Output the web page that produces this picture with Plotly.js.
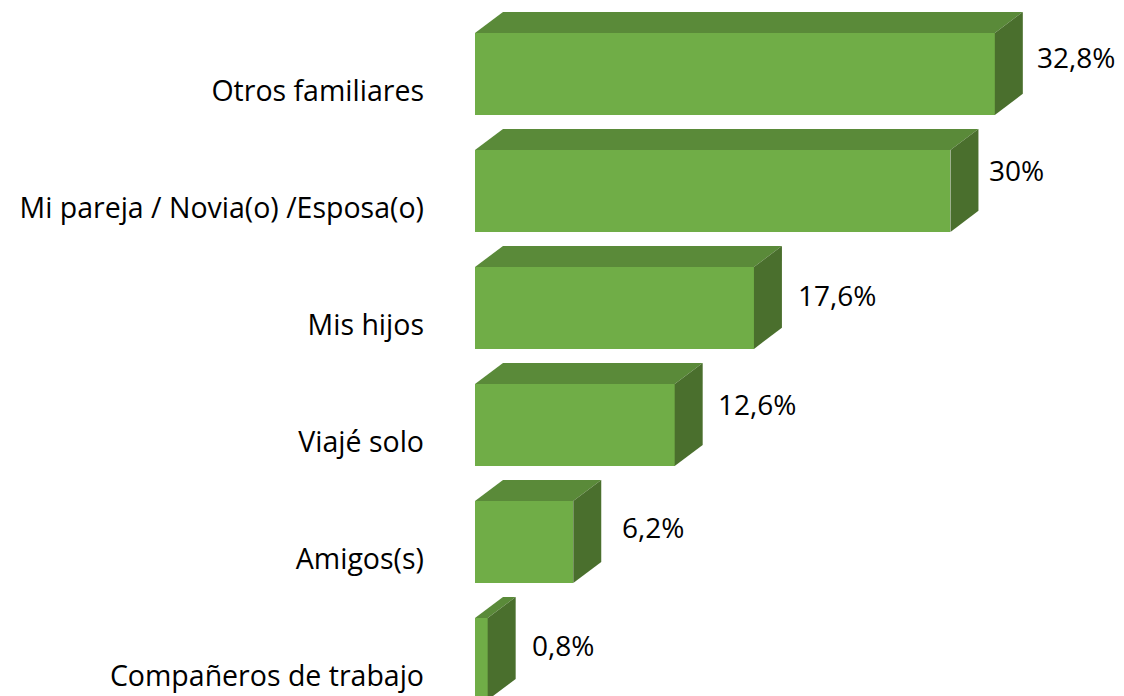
<!DOCTYPE html>
<html><head><meta charset="utf-8">
<script src="https://cdn.plot.ly/plotly-3.0.1.min.js"></script>
<style>html,body{margin:0;padding:0;background:#fff;overflow:hidden}</style>
</head><body><div id="c" style="width:1124px;height:696px"></div>
<script>
var categories = ["Otros familiares","Mi pareja / Novia(o) /Esposa(o)","Mis hijos","Viajé solo","Amigos(s)","Compañeros de trabajo"];
var values = [32.8,30,17.6,12.6,6.2,0.8];
var valueLabels = ["32,8%","30%","17,6%","12,6%","6,2%","0,8%"];
var labelDx = [81,66,83,82,80,75];
var labelDy = [17,21,13,21,15,14];
var barT = 0.7, depthX = 1.766, depthY = 0.18;
var front='#70AD47', top3d='#5A8A39', side='#4A6F2D';
var fontFam='"Open Sans", sans-serif', tickSize=28.5, labelSize=28;
var idx = categories.map(function(_,i){return i;});
var traces = [{type:'bar',orientation:'h',x:values,y:idx,width:barT,marker:{color:front,line:{width:0}},hoverinfo:'x+y',showlegend:false}];
function poly(xs,ys,c){traces.push({type:'scatter',mode:'none',x:xs,y:ys,fill:'toself',fillcolor:c,line:{width:0},hoverinfo:'skip',showlegend:false});}
values.forEach(function(v,i){
  var t=i-barT/2,b=i+barT/2;
  poly([0,v,v+depthX,depthX,0],[t,t,t-depthY,t-depthY,t],top3d);
  poly([v,v+depthX,v+depthX,v,v],[t,t-depthY,b-depthY,b,t],side);
});
var layout = {
  width:1124,height:696,margin:{l:475,r:0,t:0,b:0},paper_bgcolor:'#fff',plot_bgcolor:'#fff',
  font:{family:fontFam,size:tickSize,color:'#000'},showlegend:false,bargap:0,
  xaxis:{range:[0,40.95],showgrid:false,zeroline:false,showline:false,showticklabels:false,ticks:''},
  yaxis:{range:[5.316,-0.632],showgrid:false,zeroline:false,showline:false,ticks:'',
    tickmode:'array',tickvals:idx.map(function(i){return i+0.145;}),ticktext:categories,ticklabelstandoff:50,
    tickfont:{family:fontFam,size:tickSize,color:'#000'}},
  annotations:values.map(function(v,i){return {x:v,y:i,xref:'x',yref:'y',text:valueLabels[i],showarrow:false,xshift:labelDx[i],yshift:labelDy[i],font:{family:fontFam,size:labelSize,color:'#000'}};})
};
Plotly.newPlot('c',traces,layout,{displayModeBar:false,staticPlot:true});
</script></body></html>
